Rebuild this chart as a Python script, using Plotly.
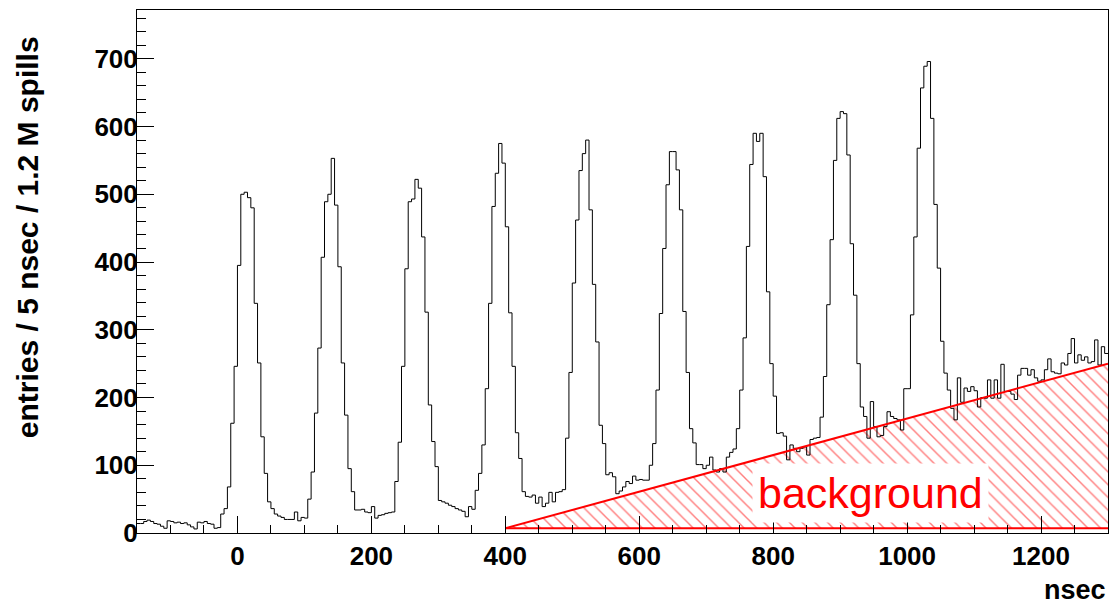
import plotly.graph_objects as go

# Histogram binning (nsec)
BIN_START = -150
BIN_WIDTH = 5

# Entries per 5 nsec bin, grouped by 100 nsec windows
counts_m150_m5 = [14, 14, 17, 19, 17, 14, 13, 10, 7, 18, 17, 15, 16, 14, 15,
                  12, 9, 6, 16, 15, 17, 14, 13, 7, 8, 28, 36, 68, 162, 246]
counts_0000 = [395, 500, 503, 495, 480, 339, 251, 142, 88, 46,
               36, 28, 25, 23, 20, 20, 20, 31, 18, 23]
counts_0100 = [22, 50, 90, 177, 273, 407, 489, 500, 553, 484,
               393, 251, 174, 95, 61, 34, 34, 35, 31, 30]
counts_0200 = [39, 22, 26, 27, 29, 30, 31, 76, 134, 246,
               390, 489, 493, 522, 509, 437, 326, 189, 135, 98]
counts_0300 = [48, 46, 44, 41, 39, 36, 34, 32, 24, 39,
               35, 63, 88, 130, 213, 339, 482, 531, 575, 546]
counts_0400 = [452, 325, 246, 148, 110, 61, 54, 53, 56, 44,
               53, 39, 44, 60, 46, 60, 61, 64, 140, 237]
counts_0500 = [369, 462, 535, 560, 580, 477, 367, 282, 159, 132,
               86, 89, 83, 58, 62, 68, 76, 73, 84, 78]
counts_0600 = [79, 78, 78, 100, 132, 211, 324, 420, 514, 563,
               563, 536, 477, 327, 237, 154, 133, 101, 101, 95]
counts_0700 = [100, 112, 93, 90, 95, 90, 112, 119, 124, 154,
               211, 288, 423, 544, 590, 578, 590, 526, 356, 250]
counts_0800 = [202, 147, 148, 143, 108, 130, 125, 120, 125, 127,
               115, 138, 140, 141, 171, 231, 337, 433, 550, 612]
counts_0900 = [622, 619, 558, 427, 351, 250, 186, 172, 140, 194,
               157, 142, 144, 157, 179, 172, 169, 167, 152, 213]
counts_1000 = [213, 322, 437, 568, 657, 689, 696, 612, 485, 391,
               283, 236, 211, 184, 167, 229, 193, 214, 209, 216]
counts_1100 = [210, 186, 200, 199, 226, 199, 226, 199, 249, 209,
               209, 205, 197, 233, 243, 243, 233, 241, 229, 224]
counts_1200 = [226, 241, 257, 238, 236, 235, 251, 248, 265, 287,
               251, 263, 255, 260, 251, 253, 285, 248, 275, 265]

counts = (counts_m150_m5 + counts_0000 + counts_0100 + counts_0200 + counts_0300
          + counts_0400 + counts_0500 + counts_0600 + counts_0700 + counts_0800
          + counts_0900 + counts_1000 + counts_1100 + counts_1200)

# Linear background estimate under the peaks (nsec, entries)
bkg_x = [400, 1300]
bkg_y = [7, 250]
bkg_floor = 7

edges = [BIN_START + BIN_WIDTH * i for i in range(len(counts) + 1)]
step_y = counts + [counts[-1]]

RED = "#ff0000"
FONT = "Liberation Sans, Arial, Helvetica, sans-serif"

fig = go.Figure()

# hatched background area
fig.add_trace(go.Scatter(
    x=[bkg_x[0], bkg_x[1], bkg_x[1], bkg_x[0]],
    y=[bkg_y[0], bkg_y[1], bkg_floor, bkg_floor],
    fill="toself", mode="none",
    fillcolor="rgba(0,0,0,0)",
    fillpattern=dict(shape="\\", fgcolor=RED, bgcolor="rgba(0,0,0,0)",
                     size=9, solidity=0.16),
    hoverinfo="skip", showlegend=False,
))

# histogram outline
fig.add_trace(go.Scatter(
    x=edges, y=step_y, mode="lines", line_shape="hv",
    line=dict(color="black", width=1), showlegend=False,
))

# background line and its floor
fig.add_trace(go.Scatter(
    x=bkg_x, y=bkg_y, mode="lines",
    line=dict(color=RED, width=2), showlegend=False,
))
fig.add_trace(go.Scatter(
    x=bkg_x, y=[bkg_floor, bkg_floor], mode="lines",
    line=dict(color=RED, width=2), showlegend=False,
))

fig.add_annotation(
    x=945, y=59, xref="x", yref="y", text="background", showarrow=False,
    font=dict(family=FONT, size=43, color=RED),
    bgcolor="white", borderpad=5,
)

fig.add_annotation(
    x=1.0, y=-0.109, xref="paper", yref="paper", text="nsec",
    showarrow=False, xanchor="right", yanchor="middle",
    font=dict(family=FONT, size=27, color="black", weight="bold"),
)
fig.add_annotation(
    x=-0.112, y=0.566, xref="paper", yref="paper",
    text="entries / 5 nsec / 1.2 M spills", textangle=-90,
    showarrow=False, xanchor="center", yanchor="middle",
    font=dict(family=FONT, size=30, color="black", weight="bold"),
)

axis_common = dict(
    showgrid=False, zeroline=False, showline=True, mirror=True,
    linecolor="black", linewidth=1, ticks="inside", tickcolor="black",
    tickwidth=1, ticklen=17,
    tickfont=dict(family=FONT, size=26, color="black", weight="bold"),
)

fig.update_xaxes(
    range=[-150, 1300], tick0=0, dtick=200,
    minor=dict(dtick=50, tick0=0, ticks="inside", ticklen=8,
               tickcolor="black", tickwidth=1),
    **axis_common,
)
fig.update_yaxes(
    range=[0, 772], tick0=0, dtick=100, ticklabelstandoff=-7,
    minor=dict(dtick=20, tick0=0, ticks="inside", ticklen=9,
               tickcolor="black", tickwidth=1),
    **axis_common,
)

fig.update_layout(
    width=1109, height=605,
    margin=dict(l=137, r=1, t=10, b=72),
    paper_bgcolor="white", plot_bgcolor="white",
    showlegend=False,
)

fig.write_html("out.html")
